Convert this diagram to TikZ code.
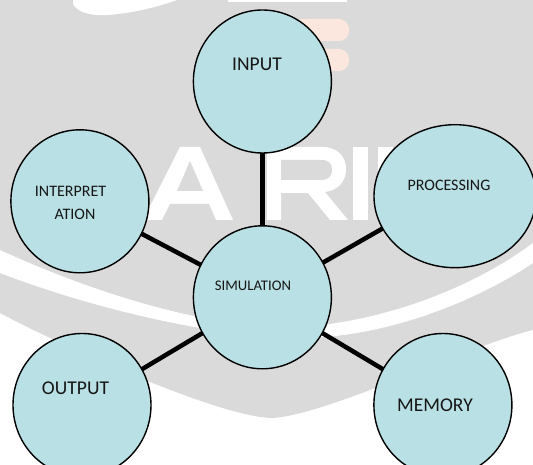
\documentclass[tikz,border=0pt]{standalone}
\usepackage{fontspec}
\setmainfont{Carlito}
\usetikzlibrary{shapes.geometric}
\pgfdeclarelayer{wm}
\pgfdeclarelayer{links}
\pgfsetlayers{wm,links,main}
\definecolor{wmgrey}{RGB}{218,218,218}
\definecolor{wmpeach}{RGB}{251,231,221}
\definecolor{bubblefill}{RGB}{185,224,228}
\definecolor{txt}{RGB}{22,22,22}
\begin{document}
\begin{tikzpicture}[x=1pt,y=-1pt,
  bubble/.style={ellipse, draw=black, line width=1.4pt, fill=bubblefill, inner sep=0pt},
  link/.style={line width=4.5pt, black},
  lblbig/.style={inner sep=0pt, text=txt, font=\fontsize{19.5}{23}\selectfont},
  lblmid/.style={inner sep=0pt, text=txt, font=\fontsize{16}{19}\selectfont},
  lblsmall/.style={inner sep=0pt, text=txt, font=\fontsize{14.7}{18}\selectfont}]
\useasboundingbox (0,0) rectangle (533,465);

% ---------- faint watermark ----------
\begin{pgfonlayer}{wm}
\fill[white] (0,0) rectangle (533,465);
\fill[wmgrey] (0,0) -- (533,0) -- (533,330)
  .. controls (470,345) and (330,414) .. (273,418)
  .. controls (220,418) and (60,345) .. (0,313) -- cycle;
% white swoosh band
\fill[white] (0,250) .. controls (120,305) and (230,330) .. (300,327)
  .. controls (380,322) and (470,290) .. (533,243) -- (533,263)
  .. controls (470,305) and (380,338) .. (300,338)
  .. controls (230,338) and (110,315) .. (0,273) -- cycle;
% top shapes
\fill[white] (73,0) -- (73,4) .. controls (78,13) and (92,16) .. (108,15)
  .. controls (135,13) and (160,6) .. (177,0) -- cycle;
\fill[white] (228,0) rectangle (347,2);
\fill[wmpeach, rounded corners=10pt] (292,19) rectangle (349,41);
\fill[wmpeach, rounded corners=10pt] (292,49) rectangle (349,71);
% letter A
\fill[white] (143,220) -- (180,147) -- (200,147) -- (233,220) -- cycle;
\fill[wmgrey] (177,191) -- (190,161) -- (203,191) -- cycle;
\fill[wmgrey] (162,220) -- (170,204) -- (209,204) -- (216,220) -- cycle;
% letter R
\fill[white] (267,147) -- (322,147) .. controls (338,147) and (346,157) .. (346,169)
  .. controls (346,182) and (338,190) .. (325,192) -- (348,220) -- (330,220)
  -- (308,193) -- (281,193) -- (281,220) -- (267,220) -- cycle;
\fill[wmgrey] (281,160) -- (322,160) .. controls (330,160) and (332,165) .. (332,170)
  .. controls (332,176) and (328,180) .. (322,180) -- (281,180) -- cycle;
% letters I I
\fill[white] (353,147) rectangle (368,220);
\fill[white] (378,147) rectangle (393,220);
\end{pgfonlayer}

% ---------- bubbles ----------
\node[bubble, minimum width=138pt, minimum height=143pt] (sim)  at (262.4,297.3) {};
\node[bubble, minimum width=138pt, minimum height=143pt] (in)   at (262.4,81.5) {};
\node[bubble, minimum width=138pt, minimum height=143pt] (intp) at (79.9,201.3) {};
\node[bubble, minimum width=162pt, minimum height=143pt] (proc) at (455,196.2) {};
\node[bubble, minimum width=138pt, minimum height=143pt] (out)  at (82,405) {};
\node[bubble, minimum width=138pt, minimum height=143pt] (mem)  at (442.9,405) {};
\coordinate (pc) at (455,187);

% ---------- labels ----------
\node[lblbig]   (tin)   at (257,64.5)  {INPUT};
\node[lblmid]   (tint1) at (70.5,191)  {INTERPRET};
\node[lblmid]   (tint2) at (75,214)    {ATION};
\node[lblmid]   (tproc) at (449,185.4) {PROCESSING};
\node[lblsmall] (tsim)  at (253,286)   {SIMULATION};
\node[lblbig]   (tout)  at (75.5,387.8) {OUTPUT};
\node[lblbig]   (tmem)  at (435,404.8) {MEMORY};

% ---------- connectors ----------
\begin{pgfonlayer}{links}
\draw[link] (sim.center) -- (in.center);
\draw[link] (sim.center) -- (intp.center);
\draw[link] (sim.center) -- (pc);
\draw[link] (sim.center) -- (out.center);
\draw[link] (sim.center) -- (mem.center);
\end{pgfonlayer}
\end{tikzpicture}
\end{document}
